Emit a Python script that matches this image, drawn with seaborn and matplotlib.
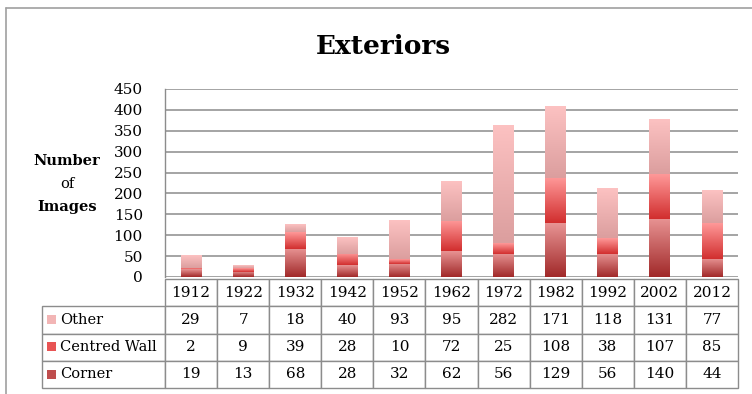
import numpy as np
import pandas as pd
import matplotlib
matplotlib.use("Agg")
import matplotlib.pyplot as plt
import seaborn as sns
from matplotlib.colors import LinearSegmentedColormap
from matplotlib.patches import Rectangle
from matplotlib.lines import Line2D

# ---- data ----
years = ["1912", "1922", "1932", "1942", "1952", "1962", "1972", "1982", "1992", "2002", "2012"]
other = [29, 7, 18, 40, 93, 95, 282, 171, 118, 131, 77]
centred_wall = [2, 9, 39, 28, 10, 72, 25, 108, 38, 107, 85]
corner = [19, 13, 68, 28, 32, 62, 56, 129, 56, 140, 44]
yticks = [0, 50, 100, 150, 200, 250, 300, 350, 400, 450]

W, H = 752, 394
sns.set_style("white")
plt.rcParams['font.family'] = ['DejaVu Serif', 'DejaVu Sans']
plt.rcParams['text.color'] = 'black'
plt.rcParams['ytick.color'] = 'black'

fig = plt.figure(figsize=(W / 100, H / 100), dpi=100)
L, R, T, B = 165, 738, 89, 277
ax = fig.add_axes([L / W, (H - B) / H, (R - L) / W, (B - T) / H])

df = pd.DataFrame({"year": years, "Corner": corner,
                   "Centred Wall": centred_wall, "Other": other})

# gradient (bottom colour, top colour) and legend swatch colour
styles = {
    "Corner": ((0.63, 0.16, 0.16), (0.91, 0.58, 0.58), (0.75, 0.30, 0.30)),
    "Centred Wall": ((0.82, 0.18, 0.18), (1.00, 0.60, 0.60), (0.91, 0.33, 0.33)),
    "Other": ((0.86, 0.62, 0.62), (0.99, 0.76, 0.76), (0.95, 0.71, 0.71)),
}

grad = np.linspace(0, 1, 256).reshape(-1, 1)
bottoms = np.zeros(len(years))
for name in ["Corner", "Centred Wall", "Other"]:
    lo, hi, mid = styles[name]
    n0 = len(ax.patches)
    sns.barplot(data=df, x="year", y=name, bottom=bottoms, width=0.4,
                color=mid, ax=ax, zorder=3, saturation=1)
    cmap = LinearSegmentedColormap.from_list(name, [lo, hi])
    for p in ax.patches[n0:]:
        x0, y0 = p.get_x(), p.get_y()
        w, h = p.get_width(), p.get_height()
        ax.imshow(grad, extent=[x0, x0 + w, y0, y0 + h], origin="lower",
                  cmap=cmap, aspect="auto", zorder=3, interpolation="bilinear")
        p.set_facecolor("none")
        p.set_edgecolor("none")
    bottoms = bottoms + df[name].to_numpy()

ax.set_xlim(-0.5, len(years) - 0.5)
ax.set_ylim(0, 450)
ax.set_yticks(yticks)
ax.set_aspect("auto")
ax.set_xlabel("")
ax.set_ylabel("")
ax.yaxis.grid(True, color="#8c8c8c", lw=1.1)
ax.set_axisbelow(True)
for s in ["top", "right", "bottom"]:
    ax.spines[s].set_visible(False)
ax.spines["left"].set_color("#8c8c8c")
ax.spines["left"].set_linewidth(1.0)
ax.tick_params(axis="x", labelbottom=False, length=0)
ax.tick_params(axis="y", length=0, pad=16, labelsize=11, colors="black")

# ---- data table ----
rows = [("Other", other), ("Centred Wall", centred_wall), ("Corner", corner)]
cell_text = [[n] + [str(v) for v in vals] for n, vals in rows]
col_labels = [""] + years
aw, ah = R - L, B - T
tx0, tx1, ty0, ty1 = 42, 738, 279, 388
tbl = ax.table(cellText=cell_text, colLabels=col_labels, cellLoc="center",
               colWidths=[123] + [(738 - 165) / 11] * 11,
               bbox=[(tx0 - L) / aw, (B - ty1) / ah, (tx1 - tx0) / aw, (ty1 - ty0) / ah])
tbl.auto_set_font_size(False)
tbl.set_fontsize(11)
for (r, c), cell in tbl.get_celld().items():
    cell.set_edgecolor("#8c8c8c")
    cell.set_linewidth(1.0)
    cell.get_text().set_color("black")
    if r == 0 and c == 0:
        cell.visible_edges = ""
    if r >= 1 and c == 0:
        cell._loc = "left"
        cell.get_text().set_ha("left")
        cell.get_text().set_fontsize(10.5)
        cell.PAD = 0.15

# legend swatches inside row label cells
row_centers = [319, 346, 374]
for (name, _), yc in zip(rows, row_centers):
    sw = 9
    fig.add_artist(Rectangle((47 / W, (H - yc - sw / 2) / H), sw / W, sw / H,
                             transform=fig.transFigure, facecolor=styles[name][2],
                             edgecolor="none"))

# ---- titles ----
fig.text(383 / W, (H - 47) / H, "Exteriors", ha="center", va="center",
         fontsize=19, fontweight="bold", color="black")
fig.text(67 / W, (H - 161) / H, "Number", ha="center", va="center", fontsize=10.5,
         fontweight="bold", color="black")
fig.text(67 / W, (H - 184) / H, "of", ha="center", va="center", fontsize=10.5, color="black")
fig.text(67 / W, (H - 207) / H, "Images", ha="center", va="center", fontsize=10.5,
         fontweight="bold", color="black")

# chart frame lines
fig.add_artist(Line2D([6 / W, 6 / W], [0, 1 - 8 / H], transform=fig.transFigure,
                      color="#a0a0a0", lw=1.2))
fig.add_artist(Line2D([6 / W, 1], [1 - 8 / H, 1 - 8 / H], transform=fig.transFigure,
                      color="#a0a0a0", lw=1.2))

fig.savefig("out.png", dpi=100)
